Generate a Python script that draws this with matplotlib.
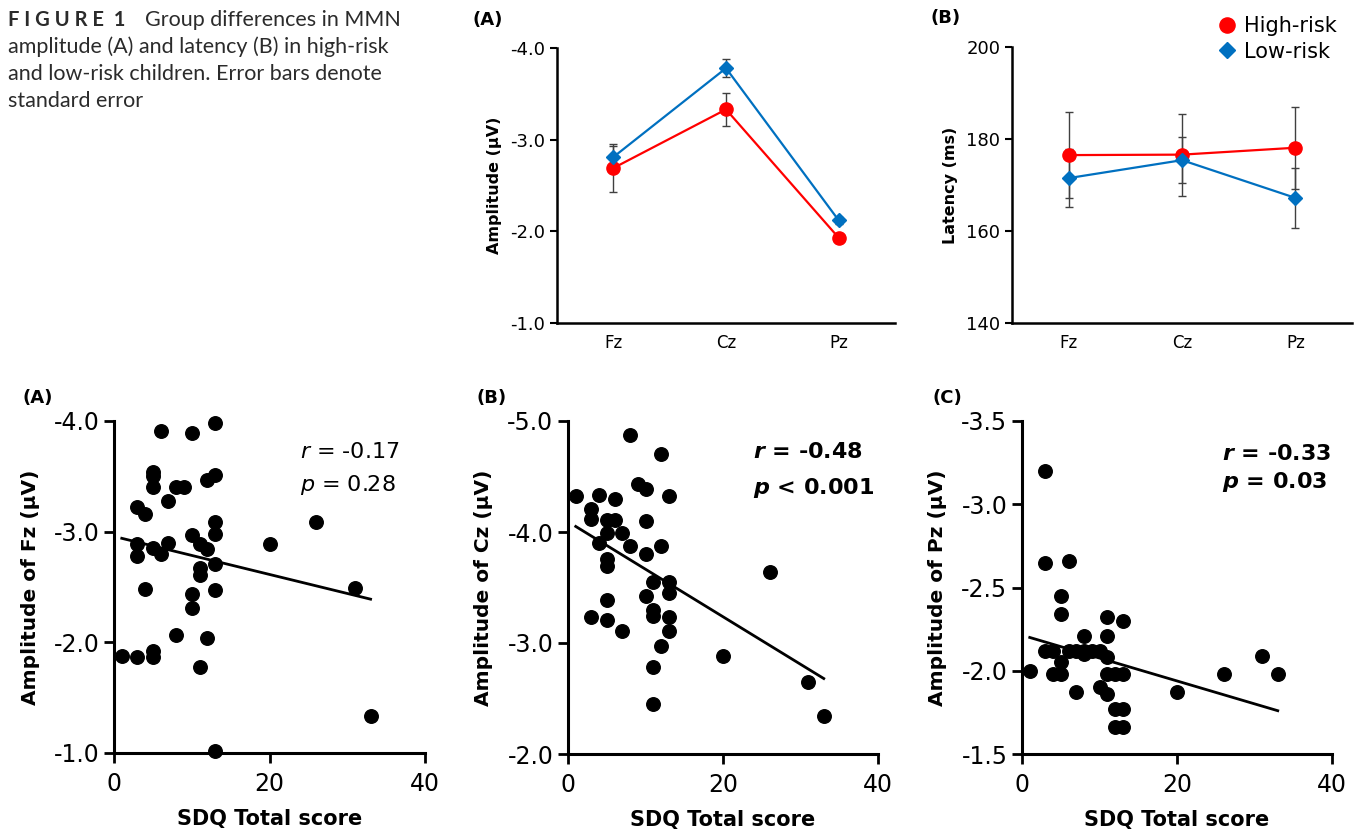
import matplotlib
matplotlib.use("Agg")
import matplotlib.pyplot as plt
import numpy as np

plt.rcParams['font.family'] = ['DejaVu Sans']
plt.rcParams['axes.unicode_minus'] = False

# ---- group means (top row) ----
sites = ["Fz", "Cz", "Pz"]
amp_high = [-2.69, -3.33, -1.93]
amp_high_se = [0.26, 0.18, 0.04]
amp_low = [-2.81, -3.78, -2.12]
amp_low_se = [0.12, 0.10, 0.04]
lat_high = [176.5, 176.6, 178.1]
lat_high_se = [9.4, 8.9, 8.9]
lat_low = [171.5, 175.4, 167.2]
lat_low_se = [6.3, 5.0, 6.5]

# ---- correlations with SDQ (bottom row) ----
fz_sdq = [1, 3, 5, 5, 3, 4, 3, 3, 4, 5, 5, 5, 5, 6, 6, 7, 7, 8, 9, 8, 10, 10, 10, 10,
          11, 11, 11, 11, 12, 12, 12, 13, 13, 13, 13, 13, 13, 13, 20, 26, 31, 33]
fz_amp = [-1.88, -1.87, -1.92, -1.87, -3.22, -3.16, -2.89, -2.78, -2.48, -3.54, -3.50,
          -3.40, -2.85, -2.80, -3.91, -3.28, -2.90, -3.40, -3.40, -2.07, -3.89, -2.97,
          -2.44, -2.31, -2.89, -2.67, -2.61, -1.78, -3.47, -2.84, -2.04, -3.98, -3.51,
          -3.09, -2.98, -2.71, -2.47, -1.02, -2.89, -3.09, -2.49, -1.33]
fz_fit_x = [1, 33]
fz_fit_y = [-2.94, -2.39]

cz_sdq = [1, 3, 3, 3, 4, 4, 5, 5, 5, 5, 5, 5, 6, 6, 7, 7, 8, 8, 9, 10, 10, 10, 10,
          11, 11, 11, 11, 11, 12, 12, 12, 13, 13, 13, 13, 13, 20, 26, 31, 33]
cz_amp = [-4.32, -4.21, -4.12, -3.23, -4.33, -3.90, -4.11, -3.99, -3.76, -3.69, -3.39,
          -3.21, -4.30, -4.11, -3.99, -3.11, -4.87, -3.87, -4.43, -4.39, -4.10, -3.80,
          -3.42, -3.55, -3.30, -3.24, -2.78, -2.45, -4.70, -3.87, -2.97, -4.32, -3.55,
          -3.45, -3.23, -3.11, -2.88, -3.64, -2.65, -2.34]
cz_fit_x = [1, 33]
cz_fit_y = [-4.05, -2.68]

pz_sdq = [1, 3, 3, 3, 4, 4, 5, 5, 5, 5, 6, 6, 7, 8, 8, 9, 10, 7, 8, 10, 11, 11, 11,
          11, 11, 12, 13, 12, 13, 12, 13, 13, 20, 26, 31, 33]
pz_amp = [-2.00, -3.20, -2.65, -2.12, -2.12, -1.98, -1.98, -2.05, -2.45, -2.34, -2.66,
          -2.12, -2.12, -2.12, -2.21, -2.12, -2.12, -1.87, -2.10, -1.90, -1.86, -2.32,
          -2.21, -2.08, -1.98, -1.98, -1.98, -1.77, -1.77, -1.66, -1.66, -2.30, -1.87,
          -1.98, -2.09, -1.98]
pz_fit_x = [1, 33]
pz_fit_y = [-2.20, -1.76]

RED = "#FF0000"
BLUE = "#0070C0"
ERR = "#404040"

W, H = 1358, 832
fig = plt.figure(figsize=(W / 100, H / 100), dpi=100)


def box(l, r, t, b):
    return [l / W, 1 - b / H, (r - l) / W, (b - t) / H]


def style(ax, lw):
    for s in ["top", "right"]:
        ax.spines[s].set_visible(False)
    for s in ["left", "bottom"]:
        ax.spines[s].set_linewidth(lw)
        ax.spines[s].set_color("black")


# caption
cap_font = ['Lato', 'DejaVu Sans']
fig.text(8 / W, 1 - 20 / H, "F I G U R E  1", family=cap_font, fontsize=14.5,
         fontweight="bold", color="#2b2b2b", va="center")
fig.text(145 / W, 1 - 20 / H, "Group differences in MMN", family=cap_font,
         fontsize=15.5, color="#2b2b2b", va="center")
cap_lines = ["amplitude (A) and latency (B) in high-risk",
             "and low-risk children. Error bars denote",
             "standard error"]
for i, line in enumerate(cap_lines):
    fig.text(8 / W, 1 - (47 + 27 * i) / H, line, family=cap_font, fontsize=15.5,
             color="#2b2b2b", va="center")

# ---- top panel A: amplitude ----
xpos = np.arange(1, len(sites) + 1)
axA = fig.add_axes(box(557, 895, 48, 323))
axA.errorbar(xpos, amp_high, yerr=amp_high_se, fmt="none", ecolor=ERR, elinewidth=1,
             capsize=3, capthick=1, zorder=1)
axA.errorbar(xpos, amp_low, yerr=amp_low_se, fmt="none", ecolor=ERR, elinewidth=1,
             capsize=3, capthick=1, zorder=1)
axA.plot(xpos, amp_high, "-", color=RED, lw=1.6, zorder=2)
axA.plot(xpos, amp_high, "o", color=RED, ms=9.5, zorder=3)
axA.plot(xpos, amp_low, "-", color=BLUE, lw=1.6, zorder=4)
axA.plot(xpos, amp_low, "D", color=BLUE, ms=7, zorder=5)
axA.set_xlim(0.5, 3.5)
axA.set_ylim(-1.0, -4.0)
axA.set_yticks([-4.0, -3.0, -2.0, -1.0])
axA.set_yticklabels(["-4.0", "-3.0", "-2.0", "-1.0"])
axA.set_xticks(xpos)
axA.set_xticklabels(sites)
axA.tick_params(axis="x", length=0, labelsize=12, pad=8)
axA.tick_params(axis="y", length=5, width=1.5, labelsize=13, direction="out")
axA.set_ylabel("Amplitude (μV)", fontsize=11.5, fontweight="bold", labelpad=6)
style(axA, 1.8)
fig.text(473 / W, 1 - 20 / H, "(A)", fontsize=13, fontweight="bold", va="center")

# ---- top panel B: latency ----
axB = fig.add_axes(box(1012, 1352, 47, 323))
axB.errorbar(xpos, lat_high, yerr=lat_high_se, fmt="none", ecolor=ERR, elinewidth=1,
             capsize=3, capthick=1, zorder=1)
axB.errorbar(xpos, lat_low, yerr=lat_low_se, fmt="none", ecolor=ERR, elinewidth=1,
             capsize=3, capthick=1, zorder=1)
axB.plot(xpos, lat_high, "-", color=RED, lw=1.6, zorder=2)
hi = axB.plot(xpos, lat_high, "o", color=RED, ms=9.5, zorder=3, label="High-risk")[0]
axB.plot(xpos, lat_low, "-", color=BLUE, lw=1.6, zorder=4)
lo = axB.plot(xpos, lat_low, "D", color=BLUE, ms=7, zorder=5, label="Low-risk")[0]
axB.set_xlim(0.5, 3.5)
axB.set_ylim(140, 200)
axB.set_yticks([140, 160, 180, 200])
axB.set_xticks(xpos)
axB.set_xticklabels(sites)
axB.tick_params(axis="x", length=0, labelsize=12, pad=8)
axB.tick_params(axis="y", length=5, width=1.5, labelsize=13, direction="out")
axB.set_ylabel("Latency (ms)", fontsize=11.5, fontweight="bold", labelpad=6)
style(axB, 1.8)
fig.text(930 / W, 1 - 18 / H, "(B)", fontsize=13, fontweight="bold", va="center")
fig.legend(handles=[hi, lo], loc="upper left", bbox_to_anchor=(1204 / W, 1 - 6 / H),
           frameon=False, fontsize=15, handletextpad=0.2, handlelength=1.2,
           labelspacing=0.25, borderpad=0, markerscale=1.15)

# ---- bottom scatter panels ----
panels = [
    ("(A)", 23, box(114, 425, 421, 753), fz_sdq, fz_amp, fz_fit_x, fz_fit_y,
     (-1.0, -4.0), [-4.0, -3.0, -2.0, -1.0], "Amplitude of Fz (μV)",
     ["$r$ = -0.17", "$p$ = 0.28"], "normal", 0.598, (0.907, 0.808)),
    ("(B)", 477, box(568, 878, 421, 754), cz_sdq, cz_amp, cz_fit_x, cz_fit_y,
     (-2.0, -5.0), [-5.0, -4.0, -3.0, -2.0], "Amplitude of Cz (μV)",
     [r"$\mathbfit{r}$ = -0.48", r"$\mathbfit{p}$ < 0.001"], "bold", 0.597, (0.907, 0.80)),
    ("(C)", 933, box(1022, 1332, 421, 754), pz_sdq, pz_amp, pz_fit_x, pz_fit_y,
     (-1.5, -3.5), [-3.5, -3.0, -2.5, -2.0, -1.5], "Amplitude of Pz (μV)",
     [r"$\mathbfit{r}$ = -0.33", r"$\mathbfit{p}$ = 0.03"], "bold", 0.645, (0.90, 0.817)),
]

for tag, tx, rect, xs, ys, fx, fy, ylim, yt, ylab, stats, wt, sx, sy in panels:
    ax = fig.add_axes(rect)
    ax.scatter(xs, ys, s=95, color="black", zorder=3, clip_on=False)
    ax.plot(fx, fy, color="black", lw=2, zorder=2)
    ax.set_xlim(0, 40)
    ax.set_ylim(*ylim)
    ax.set_xticks([0, 20, 40])
    ax.set_yticks(yt)
    ax.set_yticklabels(["%.1f" % v for v in yt])
    ax.tick_params(length=7, width=2, labelsize=17, direction="out")
    ax.tick_params(axis="x", pad=7)
    ax.set_xlabel("SDQ Total score", fontsize=15, fontweight="bold", labelpad=9)
    ax.set_ylabel(ylab, fontsize=14.5, fontweight="bold", labelpad=10)
    style(ax, 2.2)
    ax.text(sx, sy[0], stats[0], transform=ax.transAxes, fontsize=16, fontweight=wt,
            va="center")
    ax.text(sx, sy[1], stats[1], transform=ax.transAxes, fontsize=16, fontweight=wt,
            va="center")
    fig.text(tx / W, 1 - 398 / H, tag, fontsize=13, fontweight="bold", va="center")

fig.savefig("out.png", dpi=100)
